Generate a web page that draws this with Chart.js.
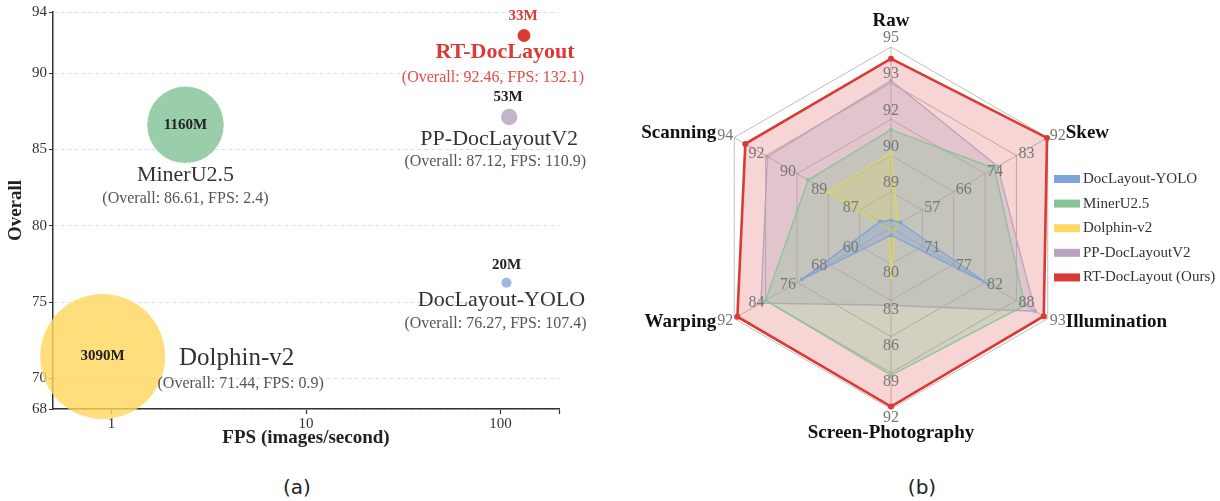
<!DOCTYPE html>
<html lang="en">
<head>
<meta charset="UTF-8">
<title>RT-DocLayout: speed vs. accuracy and robustness</title>
<script src="https://cdn.jsdelivr.net/npm/chart.js@4.4.1/dist/chart.umd.min.js"></script>
<style>
    body {
        margin: 0;
        width: 1220px;
        height: 501px;
        overflow: hidden;
        position: relative;
        background: #ffffff;
    }
    #bubbleChart { position: absolute; left: 0; top: 0; }
    #radarChart { position: absolute; left: 620px; top: 0; }
    .caption {
        position: absolute;
        top: 475px;
        width: 60px;
        text-align: center;
        font: 20px 'DejaVu Sans', sans-serif;
        color: #222;
    }
</style>
</head>
<body>
<canvas id="bubbleChart" width="620" height="470"></canvas>
<canvas id="radarChart" width="600" height="470"></canvas>
<div class="caption" style="left:267px">(a)</div>
<div class="caption" style="left:892px">(b)</div>

<script>
const SERIF = '"Liberation Serif", "Times New Roman", serif';

// ---- (a) FPS vs Overall ----
const models = ['DocLayout-YOLO', 'MinerU2.5', 'Dolphin-v2', 'PP-DocLayoutV2', 'RT-DocLayout'];
const fps = [107.4, 2.4, 0.9, 110.9, 132.1];
const overall = [76.27, 86.61, 71.44, 87.12, 92.46];
const paramsM = [20, 1160, 3090, 53, 33];
const yTicks = [68, 70, 75, 80, 85, 90, 94];
const xTicks = [1, 10, 100];

// ---- (b) robustness per scenario ----
const scenarios = ['Raw', 'Skew', 'Illumination', 'Screen-Photography', 'Warping', 'Scanning'];
const axisMin = [87.6, 48.4, 65.6, 77, 52, 85.3];
const axisMax = [94.6, 91.9, 93.1, 92, 92, 93.8];
const axisTicks = [
    ['89', '90', '92', '93', '95'],
    ['57', '66', '74', '83', '92'],
    ['71', '77', '82', '88', '93'],
    ['80', '83', '86', '89', '92'],
    ['60', '68', '76', '84', '92'],
    ['87', '89', '90', '92', '94']
];
const yoloScores = [87.9, 51.0, 82.6, 77.6, 74.7, 85.9];
const mineruScores = [91.4, 77.1, 89.1, 89.2, 84.0, 89.8];
const dolphinScores = [90.5, 50.4, 66.2, 81.1, 52.5, 88.7];
const ppScores = [93.3, 78.0, 90.9, 83.4, 85.2, 92.0];
const rtScores = [94.15, 91.7, 92.4, 91.8, 91.2, 93.2];

const colors = {
    yolo: '#7fa4d8',
    mineru: '#86c498',
    dolphin: '#ffd966',
    pp: '#b9a4bd',
    rt: '#d93a35'
};

// label placement around each bubble: [dx, dy] for size, name, detail
const labelOffsets = [
    { size: [0, -18], name: [-5, 17], detail: [-11, 41], nameSize: 22 },
    { size: [0, 0], name: [0, 50], detail: [0, 74], nameSize: 22 },
    { size: [0, 0], name: [134, 2], detail: [138, 27], nameSize: 25 },
    { size: [-1, -20], name: [-10, 22], detail: [-14, 45], nameSize: 22 },
    { size: [-1, -19], name: [-19, 17], detail: [-31, 42], nameSize: 22 }
];

const bubbleLabels = {
    id: 'bubbleLabels',
    afterDatasetsDraw(chart) {
        const ctx = chart.ctx;
        const pts = chart.getDatasetMeta(0).data;
        ctx.save();
        ctx.textAlign = 'center';
        ctx.textBaseline = 'middle';
        pts.forEach((pt, i) => {
            const o = labelOffsets[i];
            const ours = models[i] === 'RT-DocLayout';
            ctx.font = `bold 15px ${SERIF}`;
            ctx.fillStyle = ours ? colors.rt : '#222';
            ctx.fillText(paramsM[i] + 'M', pt.x + o.size[0], pt.y + o.size[1]);
            ctx.font = `${ours ? 'bold ' : ''}${o.nameSize}px ${SERIF}`;
            ctx.fillStyle = ours ? colors.rt : '#333';
            ctx.fillText(models[i], pt.x + o.name[0], pt.y + o.name[1]);
            ctx.font = `16px ${SERIF}`;
            ctx.fillStyle = ours ? '#e34c47' : '#555';
            ctx.fillText(`(Overall: ${overall[i]}, FPS: ${fps[i]})`, pt.x + o.detail[0], pt.y + o.detail[1]);
        });
        ctx.restore();
    }
};

new Chart(document.getElementById('bubbleChart'), {
    type: 'bubble',
    data: {
        datasets: [{
            data: models.map((m, i) => ({ x: fps[i], y: overall[i], r: 1.124 * Math.sqrt(paramsM[i]) })),
            backgroundColor: [
                'rgba(150,180,226,0.95)',
                'rgba(125,192,146,0.78)',
                'rgba(255,214,90,0.8)',
                'rgba(190,172,195,0.9)',
                'rgba(217,58,53,1)'
            ],
            borderWidth: 0,
            clip: false
        }]
    },
    options: {
        responsive: false,
        animation: false,
        events: [],
        layout: { autoPadding: false, padding: { left: 0, top: 12, right: 61, bottom: 0 } },
        plugins: { legend: { display: false }, tooltip: { enabled: false } },
        scales: {
            x: {
                type: 'logarithmic',
                min: 0.5,
                max: 200,
                afterBuildTicks: s => { s.ticks = [...xTicks, 200].map(v => ({ value: v })); },
                afterFit: s => { s.height = 61; },
                ticks: {
                    autoSkip: false,
                    maxRotation: 0,
                    padding: 1,
                    color: '#333',
                    font: { family: SERIF, size: 15 },
                    callback: v => xTicks.includes(v) ? String(v) : ''
                },
                grid: { drawOnChartArea: false, tickLength: 5, tickColor: '#333', tickWidth: 1.2 },
                border: { color: '#333', width: 1.5 },
                title: {
                    display: true,
                    text: 'FPS (images/second)',
                    color: '#222',
                    font: { family: SERIF, size: 19, weight: 'bold' },
                    padding: { top: 0, bottom: 21 }
                }
            },
            y: {
                min: 68,
                max: 94,
                afterBuildTicks: s => { s.ticks = yTicks.map(v => ({ value: v })); },
                afterFit: s => { s.width = 53; },
                ticks: { padding: 2, color: '#333', font: { family: SERIF, size: 15 } },
                grid: {
                    color: '#d8dcf0',
                    tickLength: 4,
                    tickColor: '#333',
                    tickWidth: 1.2,
                    tickBorderDash: [1, 0]
                },
                border: { color: '#333', width: 1.5, dash: [4, 3] },
                title: {
                    display: true,
                    text: 'Overall',
                    color: '#222',
                    font: { family: SERIF, size: 19, weight: 'bold' },
                    padding: { top: 4.6, bottom: 0 }
                }
            }
        }
    },
    plugins: [bubbleLabels]
});

// ---- radar ----
const radarSeries = [
    { name: 'DocLayout-YOLO', scores: yoloScores, color: colors.yolo, fill: 'rgba(125,163,214,0.35)', width: 1.3, dot: 2 },
    { name: 'MinerU2.5', scores: mineruScores, color: colors.mineru, fill: 'rgba(130,196,150,0.3)', width: 1.3, dot: 2 },
    { name: 'Dolphin-v2', scores: dolphinScores, color: colors.dolphin, fill: 'rgba(255,214,90,0.3)', width: 1.8, dot: 2 },
    { name: 'PP-DocLayoutV2', scores: ppScores, color: colors.pp, fill: 'rgba(185,160,190,0.33)', width: 1.3, dot: 2 },
    { name: 'RT-DocLayout (Ours)', scores: rtScores, color: colors.rt, fill: 'rgba(217,58,53,0.21)', width: 2.6, dot: 3 }
];

const norm = (v, i) => (v - axisMin[i]) / (axisMax[i] - axisMin[i]);

// offsets of the bold scenario names from the outer vertex
const titleOffsets = [[0, -26], [18, -4], [18, 4], [0, 24], [-18, 4], [-18, -4]];

const radarText = {
    id: 'radarText',
    afterDatasetsDraw(chart) {
        const ctx = chart.ctx;
        const r = chart.scales.r;
        ctx.save();
        // per-axis tick values
        ctx.font = `16px ${SERIF}`;
        ctx.fillStyle = '#777';
        scenarios.forEach((name, i) => {
            axisTicks[i].forEach((t, k) => {
                const p = r.getPointPosition(i, r.getDistanceFromCenterForValue((k + 1) / axisTicks[i].length));
                const c = Math.cos(p.angle), s = Math.sin(p.angle);
                if (Math.abs(c) < 0.1) {
                    ctx.textAlign = 'center';
                    ctx.textBaseline = s < 0 ? 'bottom' : 'top';
                    ctx.fillText(t, p.x, p.y + (s < 0 ? -1 : 1));
                } else {
                    ctx.textAlign = c > 0 ? 'left' : 'right';
                    ctx.textBaseline = 'middle';
                    ctx.fillText(t, p.x + (c > 0 ? 2 : -1), p.y + (s < 0 ? -2 : 2));
                }
            });
        });
        // scenario names
        ctx.font = `bold 19px ${SERIF}`;
        ctx.fillStyle = '#111';
        ctx.textBaseline = 'middle';
        scenarios.forEach((name, i) => {
            const p = r.getPointPosition(i, r.drawingArea);
            const c = Math.cos(p.angle);
            ctx.textAlign = Math.abs(c) < 0.1 ? 'center' : (c > 0 ? 'left' : 'right');
            ctx.fillText(name, p.x + titleOffsets[i][0], p.y + titleOffsets[i][1]);
        });
        // legend
        ctx.font = `15px ${SERIF}`;
        ctx.textAlign = 'left';
        chart.data.datasets.forEach((ds, i) => {
            const y = 179 + i * 24.6;
            ctx.fillStyle = radarSeries[i].color;
            ctx.fillRect(434, y - 4, 26, 8);
            ctx.fillStyle = '#333';
            ctx.fillText(ds.label, 463, y);
        });
        ctx.restore();
    }
};

new Chart(document.getElementById('radarChart'), {
    type: 'radar',
    data: {
        labels: scenarios,
        datasets: radarSeries.map(s => ({
            label: s.name,
            data: s.scores.map(norm),
            borderColor: s.color,
            backgroundColor: s.fill,
            borderWidth: s.width,
            pointRadius: s.dot,
            pointBackgroundColor: s.color,
            pointBorderColor: s.color,
            pointBorderWidth: 0,
            fill: true,
            tension: 0,
            clip: false
        }))
    },
    options: {
        responsive: false,
        animation: false,
        events: [],
        layout: { autoPadding: false, padding: { left: 90, top: 47, right: 148, bottom: 61 } },
        plugins: { legend: { display: false }, tooltip: { enabled: false } },
        scales: {
            r: {
                min: 0,
                max: 1,
                ticks: { display: false, stepSize: 0.2 },
                pointLabels: { display: false },
                grid: { color: 'rgba(115,110,105,0.45)', lineWidth: 1 },
                angleLines: { color: 'rgba(115,110,105,0.45)', lineWidth: 1 }
            }
        }
    },
    plugins: [radarText]
});
</script>
</body>
</html>
